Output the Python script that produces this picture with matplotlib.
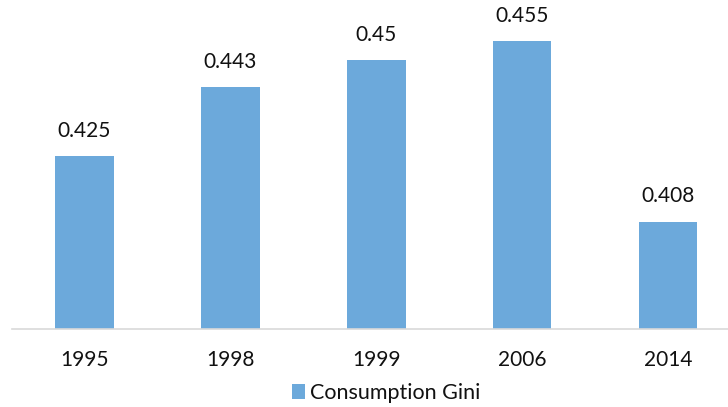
import matplotlib
matplotlib.use("Agg")
import matplotlib.pyplot as plt
from matplotlib.patches import Patch

years = ["1995", "1998", "1999", "2006", "2014"]
gini = [0.425, 0.443, 0.45, 0.455, 0.408]
value_labels = ["0.425", "0.443", "0.45", "0.455", "0.408"]
series_name = "Consumption Gini"

plt.rcParams['font.family'] = ['Lato', 'DejaVu Sans']
color = "#6CA9DB"

fig = plt.figure(figsize=(7.28, 4.07), dpi=100)
ax = fig.add_axes([12/728, 1-329/407, 1-12/728, (329-22)/407])
x = list(range(len(years)))
ax.bar(x, gini, width=0.4, color=color, zorder=2)
ax.set_xlim(-0.497, 4.41)
ax.set_ylim(0.38, 0.46)
for xi, v, lab in zip(x, gini, value_labels):
    ax.annotate(lab, (xi, v), xytext=(0, 11), textcoords="offset points",
                ha="center", va="bottom", fontsize=15, color="#111111")
ax.set_xticks(x)
ax.set_xticklabels(years, fontsize=15, color="#111111")
ax.tick_params(axis="x", length=0, pad=15)
ax.set_yticks([])
for s in ["top", "right", "left"]:
    ax.spines[s].set_visible(False)
ax.spines["bottom"].set_color("#D9D9D9")
ax.spines["bottom"].set_linewidth(1.2)

handle = Patch(facecolor=color, label=series_name)
fig.legend(handles=[handle], loc="center", bbox_to_anchor=(386/728, 1-393/407),
           frameon=False, fontsize=15.5, handlelength=0.6, handleheight=0.7,
           handletextpad=0.25, labelcolor="#111111")
fig.savefig("out.png", dpi=100)
